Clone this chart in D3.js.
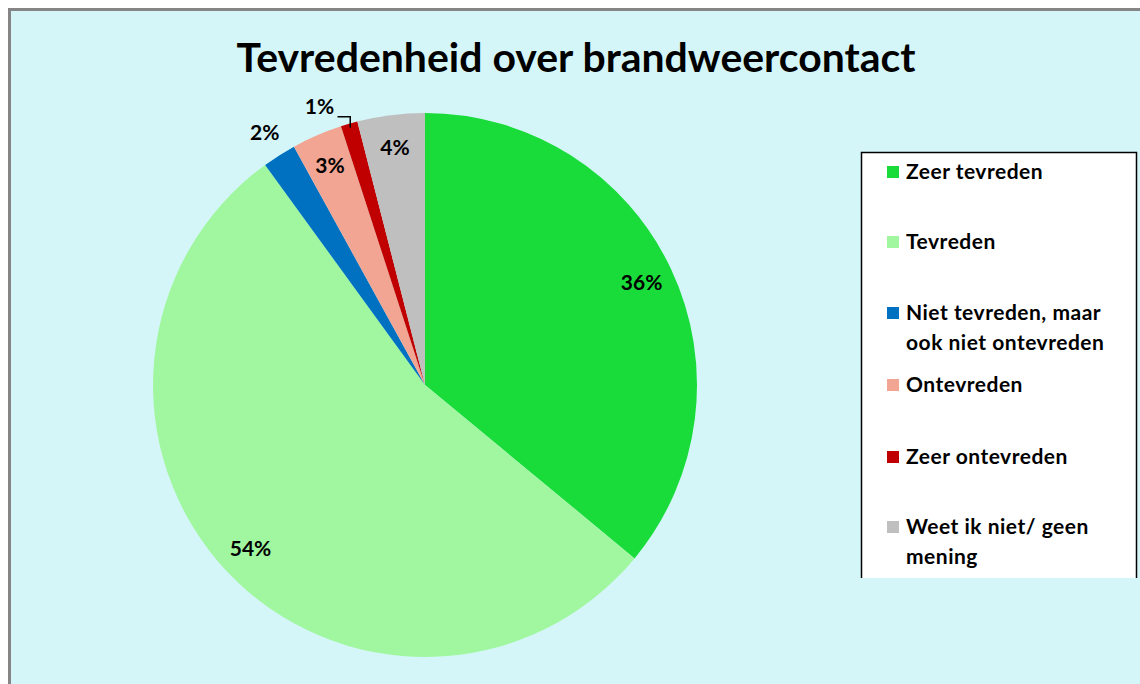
<!DOCTYPE html>
<html>
<head>
<meta charset="utf-8">
<script src="https://cdn.jsdelivr.net/npm/d3@7"></script>
<style>
  body { margin: 0; background: #fff; }
  svg { display: block; font-family: Lato, "Open Sans", sans-serif; }
</style>
</head>
<body>
<div id="chart"></div>
<script>
// data
const categories = ["Zeer tevreden", "Tevreden", "Niet tevreden, maar ook niet ontevreden",
                    "Ontevreden", "Zeer ontevreden", "Weet ik niet/ geen mening"];
const values = [36, 54, 2, 3, 1, 4];
const colors = ["#19dc3a", "#a0f7a0", "#0070c0", "#f2a592", "#c00000", "#bfbfbf"];
// legend lines (wrapped like the original)
const legendLines = [["Zeer tevreden"], ["Tevreden"], ["Niet tevreden, maar", "ook niet ontevreden"],
                     ["Ontevreden"], ["Zeer ontevreden"], ["Weet ik niet/ geen", "mening"]];
const outsideLabel = [false, false, true, false, true, false];

const width = 1140, height = 684;
const cx = 425, cy = 385, radius = 272;

const svg = d3.select("#chart").append("svg")
    .attr("width", width)
    .attr("height", height);

// chart area background + frame (right/bottom edges run off the picture)
svg.append("rect")
    .attr("x", 8).attr("y", 8)
    .attr("width", width).attr("height", height)
    .attr("fill", "#d5f6f9");
svg.append("path")
    .attr("d", `M9.5,${height} V9.5 H${width}`)
    .attr("fill", "none")
    .attr("stroke", "#858585")
    .attr("stroke-width", 3);

// title
svg.append("text")
    .attr("x", 576)
    .attr("y", 72)
    .attr("text-anchor", "middle")
    .style("font-size", "40px")
    .style("font-weight", "bold")
    .attr("fill", "#000")
    .attr("textLength", 679)
    .attr("lengthAdjust", "spacingAndGlyphs")
    .text("Tevredenheid over brandweercontact");

const g = svg.append("g").attr("transform", `translate(${cx},${cy})`);

const pie = d3.pie().sort(null).value(d => d);
const arcs = pie(values);
const arc = d3.arc().innerRadius(0).outerRadius(radius);

g.selectAll("path.slice")
    .data(arcs)
    .enter().append("path")
    .attr("class", "slice")
    .attr("d", arc)
    .attr("fill", (d, i) => colors[i]);

// labels
const inArc = d3.arc().innerRadius(radius * 0.88).outerRadius(radius * 0.88);
const outArc = d3.arc().innerRadius(radius * 1.1).outerRadius(radius * 1.1);
// the 1% label was pushed aside a bit in the original
const nudge = (i) => i === 4 ? [-22, 9] : [0, 0];
const labelPos = (d, i) => {
  const p = outsideLabel[i] ? outArc.centroid(d) : inArc.centroid(d);
  const n = nudge(i);
  return [p[0] + n[0], p[1] + n[1]];
};

g.selectAll("text.lbl")
    .data(arcs)
    .enter().append("text")
    .attr("class", "lbl")
    .attr("x", (d, i) => labelPos(d, i)[0])
    .attr("y", (d, i) => labelPos(d, i)[1])
    .attr("dy", "0.35em")
    .attr("text-anchor", "middle")
    .style("font-size", "21px")
    .style("font-weight", "bold")
    .attr("fill", "#000")
    .text(d => d.value + "%");

// leader line for the 1% slice
{
  const d = arcs[4];
  const p = labelPos(d, 4);
  const edge = d3.arc().innerRadius(radius * 0.985).outerRadius(radius * 0.985).centroid(d);
  const x0 = p[0] + 18, y0 = p[1] + 10;
  g.append("path")
      .attr("d", `M${x0},${y0} H${edge[0]} V${edge[1]}`)
      .attr("fill", "none")
      .attr("stroke", "#000")
      .attr("stroke-width", 1.5);
}

// legend
const lg = svg.append("g").attr("transform", "translate(861,152)");
lg.append("rect")
    .attr("width", 275).attr("height", 440)
    .attr("fill", "#fff");
lg.append("path")
    .attr("d", "M0.5,426 V0.5 H275.5 V426")
    .attr("fill", "none")
    .attr("stroke", "#000")
    .attr("stroke-width", 1.5);
// cut-off bottom of the legend
svg.append("rect")
    .attr("x", 855).attr("y", 578)
    .attr("width", 290).attr("height", 110)
    .attr("fill", "#d5f6f9");

const rowY = [20, 90, 161, 233, 305, 375];
const item = lg.selectAll(".item")
    .data(categories)
    .enter().append("g")
    .attr("class", "item")
    .attr("transform", (d, i) => `translate(26,${rowY[i]})`);

item.append("rect")
    .attr("x", 0).attr("y", -6)
    .attr("width", 12).attr("height", 12)
    .attr("fill", (d, i) => colors[i]);

item.append("text")
    .attr("x", 19)
    .attr("y", 0)
    .style("font-size", "21px")
    .style("font-weight", "bold")
    .style("letter-spacing", "0.5px")
    .attr("fill", "#000")
    .selectAll("tspan")
    .data((d, i) => legendLines[i])
    .enter().append("tspan")
    .attr("x", 19)
    .attr("dy", (d, j) => j === 0 ? "0.35em" : "1.42em")
    .text(d => d);
</script>
</body>
</html>
